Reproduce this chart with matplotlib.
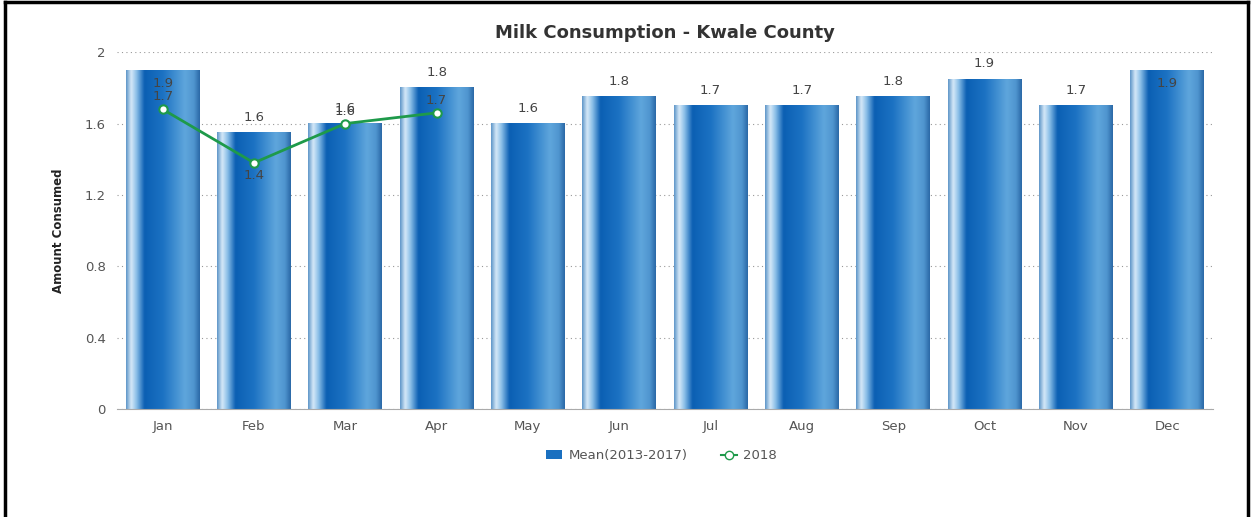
import numpy as np
import matplotlib.pyplot as plt
from matplotlib.colors import LinearSegmentedColormap
from matplotlib.patches import Patch
from matplotlib.lines import Line2D

# Datos
meses = ['Jan', 'Feb', 'Mar', 'Apr', 'May', 'Jun', 'Jul', 'Aug', 'Sep', 'Oct', 'Nov', 'Dec']
media_2013_2017 = [1.9, 1.55, 1.6, 1.8, 1.6, 1.75, 1.7, 1.7, 1.75, 1.85, 1.7, 1.9]
meses_2018 = ['Jan', 'Feb', 'Mar', 'Apr']
valores_2018 = [1.68, 1.38, 1.6, 1.66]

fig = plt.figure(figsize=(12.51, 5.17), dpi=100)
ax = fig.add_axes([0.0935, 0.209, 0.876, 0.690])

x = np.arange(len(meses))
barras = ax.bar(x, media_2013_2017, width=0.81, color='#1a70c0', zorder=2)

# degradado tipo cilindro
cmap = LinearSegmentedColormap.from_list('cil', [
    (0.0, '#5d95c8'), (0.07, '#d6e9f8'), (0.14, '#8cc0e8'), (0.25, '#0b5fb3'),
    (0.5, '#1c72c3'), (0.8, '#5fa6dc'), (0.92, '#4f95cf'), (1.0, '#2a68a6')])
grad = np.linspace(0, 1, 256).reshape(1, -1)
for b in barras:
    x0 = b.get_x()
    ax.imshow(grad, extent=[x0, x0 + b.get_width(), 0, b.get_height()],
              aspect='auto', cmap=cmap, zorder=3, interpolation='bicubic')

xi = [meses.index(m) for m in meses_2018]
ax.plot(xi, valores_2018, color='#1e9a4a', lw=2, marker='o', ms=6,
        mfc='white', mec='#1e9a4a', mew=1.5, zorder=5)

# etiquetas
for i, v in enumerate(media_2013_2017):
    dy = -10 if v >= 1.88 else 11
    ax.annotate(f'{v:.1f}', (i, v), xytext=(0, dy), textcoords='offset points',
                ha='center', va='center', fontsize=9.5, color='#444444', zorder=6)
for i, v in zip(xi, valores_2018):
    dy = -9 if i == 1 else 9
    ax.annotate(f'{v:.1f}', (i, v), xytext=(0, dy), textcoords='offset points',
                ha='center', va='center', fontsize=9.5, color='#444444', zorder=6)

ax.set_xlim(-0.5, len(meses) - 0.5)
ax.set_ylim(0, 2)
ax.set_xticks(x)
ax.set_xticklabels(meses)
ax.set_yticks([0, 0.4, 0.8, 1.2, 1.6, 2])
ax.set_yticklabels(['0', '0.4', '0.8', '1.2', '1.6', '2'])
ax.tick_params(axis='both', length=0, labelsize=9.5, colors='#555555', pad=8)
ax.grid(axis='y', linestyle=(0, (1, 3)), color='#999999', lw=0.8, zorder=0)
for lado in ['top', 'right', 'left']:
    ax.spines[lado].set_visible(False)
ax.spines['bottom'].set_color('#aaaaaa')
ax.spines['bottom'].set_zorder(4)

ax.set_ylabel('Amount Consumed', fontsize=8.5, fontweight='bold',
              color='#222222', labelpad=14)
ax.set_title('Milk Consumption - Kwale County', fontsize=13, fontweight='bold',
             color='#333333', pad=10)

manijas = [Patch(facecolor='#1a70c0'),
           Line2D([], [], color='#1e9a4a', marker='o', mfc='white', mec='#1e9a4a', lw=1.5)]
fig.legend(manijas, ['Mean(2013-2017)', '2018'], loc='center', bbox_to_anchor=(0.529, 0.118),
           ncol=2, frameon=False, fontsize=9.5, labelcolor='#555555',
           handlelength=1.2, handletextpad=0.5, columnspacing=2.5)

# marco exterior
for xs, ys in [([0.004, 0.004], [0, 0.997]), ([0.004, 0.998], [0.997, 0.997]),
               ([0.998, 0.998], [0, 0.997])]:
    fig.add_artist(Line2D(xs, ys, color='black', lw=2.5, transform=fig.transFigure))

fig.savefig('out.png', dpi=100)
